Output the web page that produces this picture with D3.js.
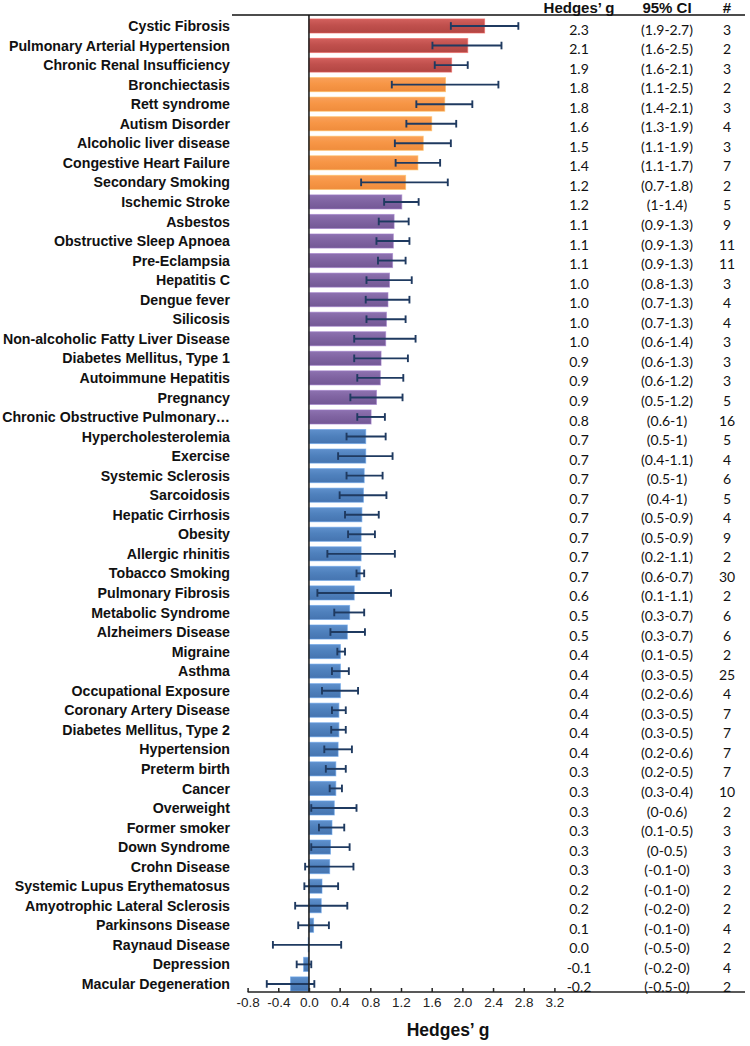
<!DOCTYPE html>
<html>
<head>
<meta charset="utf-8">
<script src="https://cdn.jsdelivr.net/npm/d3@7"></script>
<style>
  html, body { margin: 0; padding: 0; background: #ffffff; }
  svg { display: block; }
</style>
</head>
<body>
<svg id="chart" width="750" height="1046"></svg>
<script>
// ---------- DATA ----------
const categories = [
  "Cystic Fibrosis", "Pulmonary Arterial Hypertension", "Chronic Renal Insufficiency",
  "Bronchiectasis", "Rett syndrome", "Autism Disorder", "Alcoholic liver disease",
  "Congestive Heart Failure", "Secondary Smoking", "Ischemic Stroke", "Asbestos",
  "Obstructive Sleep Apnoea", "Pre-Eclampsia", "Hepatitis C", "Dengue fever", "Silicosis",
  "Non-alcoholic Fatty Liver Disease", "Diabetes Mellitus, Type 1", "Autoimmune Hepatitis",
  "Pregnancy", "Chronic Obstructive Pulmonary…", "Hypercholesterolemia", "Exercise",
  "Systemic Sclerosis", "Sarcoidosis", "Hepatic Cirrhosis", "Obesity", "Allergic rhinitis",
  "Tobacco Smoking", "Pulmonary Fibrosis", "Metabolic Syndrome", "Alzheimers Disease",
  "Migraine", "Asthma", "Occupational Exposure", "Coronary Artery Disease",
  "Diabetes Mellitus, Type 2", "Hypertension", "Preterm birth", "Cancer", "Overweight",
  "Former smoker", "Down Syndrome", "Crohn Disease", "Systemic Lupus Erythematosus",
  "Amyotrophic Lateral Sclerosis", "Parkinsons Disease", "Raynaud Disease", "Depression",
  "Macular Degeneration"
];

// effect size (bar length)
const hedgesG = [
  2.29, 2.07, 1.86, 1.78, 1.77, 1.60, 1.49, 1.42, 1.26, 1.21, 1.11, 1.10, 1.09, 1.05, 1.03,
  1.01, 1.00, 0.94, 0.93, 0.88, 0.81, 0.74, 0.74, 0.72, 0.71, 0.69, 0.68, 0.68, 0.67, 0.59,
  0.53, 0.50, 0.41, 0.41, 0.41, 0.39, 0.39, 0.38, 0.35, 0.35, 0.33, 0.30, 0.28, 0.27, 0.17,
  0.16, 0.06, -0.01, -0.07, -0.24
];

// error bar ends
const ciLow = [
  1.85, 1.61, 1.64, 1.08, 1.40, 1.27, 1.12, 1.13, 0.68, 0.98, 0.91, 0.88, 0.90, 0.75, 0.74,
  0.75, 0.59, 0.59, 0.63, 0.54, 0.63, 0.49, 0.38, 0.49, 0.40, 0.47, 0.51, 0.24, 0.62, 0.11,
  0.33, 0.28, 0.37, 0.30, 0.17, 0.30, 0.29, 0.20, 0.22, 0.27, 0.03, 0.13, 0.03, -0.05, -0.06,
  -0.18, -0.14, -0.47, -0.16, -0.55
];
const ciHigh = [
  2.73, 2.51, 2.07, 2.47, 2.13, 1.92, 1.85, 1.71, 1.81, 1.43, 1.30, 1.31, 1.26, 1.34, 1.31,
  1.26, 1.39, 1.29, 1.23, 1.22, 0.99, 1.00, 1.09, 0.96, 1.01, 0.91, 0.86, 1.12, 0.72, 1.07,
  0.72, 0.73, 0.47, 0.52, 0.64, 0.48, 0.48, 0.56, 0.48, 0.43, 0.62, 0.46, 0.53, 0.58, 0.38,
  0.50, 0.26, 0.42, 0.03, 0.07
];

// colour group of each category
const groups = [
  "red", "red", "red",
  "orange", "orange", "orange", "orange", "orange", "orange",
  "purple", "purple", "purple", "purple", "purple", "purple", "purple", "purple", "purple",
  "purple", "purple", "purple",
  "blue", "blue", "blue", "blue", "blue", "blue", "blue", "blue", "blue", "blue", "blue",
  "blue", "blue", "blue", "blue", "blue", "blue", "blue", "blue", "blue", "blue", "blue",
  "blue", "blue", "blue", "blue", "blue", "blue", "blue"
];

// table columns as printed
const gText = [
  "2.3", "2.1", "1.9", "1.8", "1.8", "1.6", "1.5", "1.4", "1.2", "1.2", "1.1", "1.1", "1.1",
  "1.0", "1.0", "1.0", "1.0", "0.9", "0.9", "0.9", "0.8", "0.7", "0.7", "0.7", "0.7", "0.7",
  "0.7", "0.7", "0.7", "0.6", "0.5", "0.5", "0.4", "0.4", "0.4", "0.4", "0.4", "0.4", "0.3",
  "0.3", "0.3", "0.3", "0.3", "0.3", "0.2", "0.2", "0.1", "0.0", "-0.1", "-0.2"
];
const ciText = [
  "(1.9-2.7)", "(1.6-2.5)", "(1.6-2.1)", "(1.1-2.5)", "(1.4-2.1)", "(1.3-1.9)", "(1.1-1.9)",
  "(1.1-1.7)", "(0.7-1.8)", "(1-1.4)", "(0.9-1.3)", "(0.9-1.3)", "(0.9-1.3)", "(0.8-1.3)",
  "(0.7-1.3)", "(0.7-1.3)", "(0.6-1.4)", "(0.6-1.3)", "(0.6-1.2)", "(0.5-1.2)", "(0.6-1)",
  "(0.5-1)", "(0.4-1.1)", "(0.5-1)", "(0.4-1)", "(0.5-0.9)", "(0.5-0.9)", "(0.2-1.1)",
  "(0.6-0.7)", "(0.1-1.1)", "(0.3-0.7)", "(0.3-0.7)", "(0.1-0.5)", "(0.3-0.5)", "(0.2-0.6)",
  "(0.3-0.5)", "(0.3-0.5)", "(0.2-0.6)", "(0.2-0.5)", "(0.3-0.4)", "(0-0.6)", "(0.1-0.5)",
  "(0-0.5)", "(-0.1-0)", "(-0.1-0)", "(-0.2-0)", "(-0.1-0)", "(-0.5-0)", "(-0.2-0)", "(-0.5-0)"
];
const nStudies = [
  3, 2, 3, 2, 3, 4, 3, 7, 2, 5, 9, 11, 11, 3, 4, 4, 3, 3, 3, 5, 16, 5, 4, 6, 5, 4, 9, 2, 30,
  2, 6, 6, 2, 25, 4, 7, 7, 7, 7, 10, 2, 3, 3, 3, 2, 2, 4, 2, 4, 2
];

const xTicks = [-0.8, -0.4, 0.0, 0.4, 0.8, 1.2, 1.6, 2.0, 2.4, 2.8, 3.2];
const tableHeaders = ["Hedges\u2019 g", "95% CI", "#"];
const axisTitle = "Hedges\u2019 g";

// ---------- STYLE ----------
const groupColors = {
  red:    { top: "#d2605d", mid: "#c0504d", bot: "#b24643" },
  orange: { top: "#f9a05a", mid: "#f79646", bot: "#ef8c3c" },
  purple: { top: "#8d72b0", mid: "#8064a2", bot: "#735895" },
  blue:   { top: "#5f90cc", mid: "#4f81bd", bot: "#4574b0" }
};
const errColor = "#1f3a60";

const svg = d3.select("#chart");
const defs = svg.append("defs");
Object.entries(groupColors).forEach(([k, c]) => {
  const g = defs.append("linearGradient").attr("id", "grad-" + k)
    .attr("x1", 0).attr("y1", 0).attr("x2", 0).attr("y2", 1);
  g.append("stop").attr("offset", "0%").attr("stop-color", c.top);
  g.append("stop").attr("offset", "45%").attr("stop-color", c.mid);
  g.append("stop").attr("offset", "100%").attr("stop-color", c.bot);
});

// ---------- SCALES ----------
const x = d3.scaleLinear().domain([-0.8, 3.2]).range([247.6, 554.4]);
const y = d3.scaleBand().domain(categories).range([16.2, 993.7])
  .paddingInner(0.28).paddingOuter(0.14);

const rows = categories.map((c, i) => ({
  name: c, g: hedgesG[i], lo: ciLow[i], hi: ciHigh[i], grp: groups[i],
  gt: gText[i], ct: ciText[i], n: nStudies[i]
}));

// ---------- BARS ----------
svg.append("g").selectAll("rect").data(rows).join("rect")
  .attr("x", d => x(Math.min(0, d.g)))
  .attr("y", d => y(d.name))
  .attr("width", d => Math.abs(x(d.g) - x(0)))
  .attr("height", y.bandwidth())
  .attr("fill", d => "url(#grad-" + d.grp + ")")
  .attr("stroke", d => d3.color(groupColors[d.grp].mid).brighter(0.6))
  .attr("stroke-opacity", 0.6)
  .attr("stroke-width", 1);

// ---------- ERROR BARS ----------
const eb = svg.append("g").attr("stroke", errColor).attr("stroke-width", 1.9);
const cy = d => y(d.name) + y.bandwidth() / 2;
eb.selectAll("line.h").data(rows).join("line").attr("class", "h")
  .attr("x1", d => x(d.lo)).attr("x2", d => x(d.hi))
  .attr("y1", cy).attr("y2", cy);
eb.selectAll("line.cl").data(rows).join("line").attr("class", "cl")
  .attr("x1", d => x(d.lo)).attr("x2", d => x(d.lo))
  .attr("y1", d => cy(d) - 3.8).attr("y2", d => cy(d) + 3.8);
eb.selectAll("line.ch").data(rows).join("line").attr("class", "ch")
  .attr("x1", d => x(d.hi)).attr("x2", d => x(d.hi))
  .attr("y1", d => cy(d) - 3.8).attr("y2", d => cy(d) + 3.8);

// ---------- ZERO LINE ----------
svg.append("line")
  .attr("x1", x(0)).attr("x2", x(0)).attr("y1", 15).attr("y2", 992)
  .attr("stroke", "#222").attr("stroke-width", 1.6);

// ---------- CATEGORY LABELS ----------
svg.append("g").selectAll("text").data(rows).join("text")
  .attr("x", 230).attr("y", d => cy(d))
  .attr("dy", "0.36em")
  .attr("text-anchor", "end")
  .attr("font-family", "'Liberation Sans', Arial, sans-serif")
  .attr("font-weight", "bold")
  .attr("font-size", 14.2)
  .attr("fill", "#111")
  .text(d => d.name);

// ---------- X AXIS ----------
const axisY = 992;
svg.append("line")
  .attr("x1", x(-0.8)).attr("x2", 745).attr("y1", axisY).attr("y2", axisY)
  .attr("stroke", "#222").attr("stroke-width", 1.5);
const axis = d3.axisBottom(x).tickValues(xTicks).tickSizeInner(-4).tickSizeOuter(0)
  .tickPadding(5).tickFormat(d => d.toFixed(1));
const ax = svg.append("g").attr("transform", `translate(0,${axisY})`).call(axis);
ax.select(".domain").remove();
ax.selectAll(".tick line").attr("stroke", "#222").attr("stroke-width", 1.5);
ax.selectAll(".tick text")
  .attr("font-family", "'Liberation Sans', Arial, sans-serif")
  .attr("font-size", 13.5).attr("fill", "#222");

svg.append("text")
  .attr("x", 448).attr("y", 1036)
  .attr("text-anchor", "middle")
  .attr("font-family", "'Liberation Sans', Arial, sans-serif")
  .attr("font-weight", "bold").attr("font-size", 17.5).attr("fill", "#111")
  .text(axisTitle);

// ---------- TABLE ----------
const colX = [579, 667, 727];
svg.append("line")
  .attr("x1", 232).attr("x2", 745).attr("y1", 15).attr("y2", 15)
  .attr("stroke", "#111").attr("stroke-width", 1.5);
svg.append("g").selectAll("text").data(tableHeaders).join("text")
  .attr("x", (d, i) => colX[i]).attr("y", 12.5)
  .attr("text-anchor", "middle")
  .attr("font-family", "'Liberation Sans', Arial, sans-serif")
  .attr("font-weight", "bold").attr("font-size", 15).attr("fill", "#111")
  .text(d => d);

const tbl = svg.append("g")
  .attr("font-family", "Lato, 'Open Sans', sans-serif")
  .attr("font-size", 14).attr("fill", "#111").attr("text-anchor", "middle");
const ty = d => cy(d) + 3.5;
tbl.selectAll("text.g").data(rows).join("text").attr("class", "g")
  .attr("x", colX[0]).attr("y", ty).attr("dy", "0.36em").text(d => d.gt);
tbl.selectAll("text.c").data(rows).join("text").attr("class", "c")
  .attr("x", colX[1]).attr("y", ty).attr("dy", "0.36em").text(d => d.ct);
tbl.selectAll("text.n").data(rows).join("text").attr("class", "n")
  .attr("x", colX[2]).attr("y", ty).attr("dy", "0.36em").text(d => d.n);
</script>
</body>
</html>
